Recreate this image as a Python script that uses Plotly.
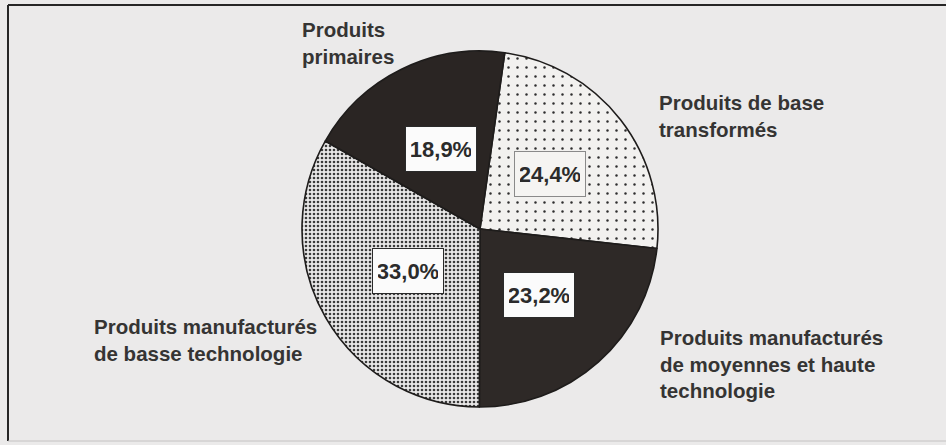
import math
import plotly.graph_objects as go

# ---- data ----
labels = [
    "Produits de base transformés",
    "Produits manufacturés de moyennes et haute technologie",
    "Produits manufacturés de basse technologie",
    "Produits primaires",
]
values = [24.4, 23.2, 33.0, 18.9]
label_lines = [
    ["Produits de base", "transformés"],
    ["Produits manufacturés", "de moyennes et haute", "technologie"],
    ["Produits manufacturés", "de basse technologie"],
    ["Produits", "primaires"],
]

# ---- layout constants ----
W, H = 946, 445
CX, CY, R = 480, 229, 178
ROT = 8
BG = "#ebeaea"
TXT = "#353433"

fill_colors = ["#f2f1ef", "#2e2927", "#e9e8e8", "#2a2523"]
pat_shapes = [".", "", ".", ""]
pat_fg = ["#2e2e2e", "#2e2927", "#3a3a3a", "#2a2523"]
pat_size = [9, 6, 4, 6]
pat_solid = [0.06, 0.3, 0.33, 0.3]

fig = go.Figure()
fig.add_trace(go.Pie(
    labels=labels,
    values=values,
    sort=False,
    direction="clockwise",
    rotation=ROT,
    textinfo="none",
    hoverinfo="label+percent",
    showlegend=False,
    domain=dict(x=[(CX - R) / W, (CX + R) / W],
                y=[(H - CY - R) / H, (H - CY + R) / H]),
    marker=dict(
        colors=fill_colors,
        line=dict(color="#1e1c1b", width=1.6),
        pattern=dict(shape=pat_shapes, fgcolor=pat_fg, bgcolor=fill_colors,
                     size=pat_size, solidity=pat_solid, fillmode="replace"),
    ),
))

annotations = []
# percentage boxes, placed at the middle of each slice
total = sum(values)
cum = 0.0
box_border = ["#8a8a8a", "#2a2a2a", "#2a2a2a", "#2a2a2a"]
box_bg = ["#f5f4f2", "#fbfbfb", "#fbfbfb", "#fbfbfb"]
rad_frac = [0.5, 0.5, 0.47, 0.5]
for i, v in enumerate(values):
    mid = math.radians(ROT + 360.0 * (cum + v / 2.0) / total)
    cum += v
    px = CX + rad_frac[i] * R * math.sin(mid)
    py = CY - rad_frac[i] * R * math.cos(mid)
    annotations.append(dict(
        x=px / W, y=1 - py / H, xref="paper", yref="paper",
        text=f"{v:.1f}".replace(".", ",") + "%",
        showarrow=False, xanchor="center", yanchor="middle",
        font=dict(family="Liberation Sans, Arial, sans-serif", size=22,
                  color="#2b2b2b", weight="bold"),
        bgcolor=box_bg[i], bordercolor=box_border[i], borderwidth=1,
        borderpad=5, width=60, height=34,
    ))

# outside category labels
label_pos = [(657, 116), (658, 364), (92, 340), (300, 43)]
for lines, (lx, ly) in zip(label_lines, label_pos):
    annotations.append(dict(
        x=lx / W, y=1 - ly / H, xref="paper", yref="paper",
        text="<br>".join(lines), align="left",
        showarrow=False, xanchor="left", yanchor="middle",
        font=dict(family="Liberation Sans, Arial, sans-serif", size=20.5,
                  color=TXT, weight="bold"),
    ))

frame = [
    dict(type="line", xref="paper", yref="paper",
         x0=8 / W, x1=8 / W, y0=1 - 441 / H, y1=1 - 5 / H,
         line=dict(color="#262626", width=2)),
    dict(type="line", xref="paper", yref="paper",
         x0=8 / W, x1=1.0, y0=1 - 5 / H, y1=1 - 5 / H,
         line=dict(color="#262626", width=2)),
    dict(type="line", xref="paper", yref="paper",
         x0=8 / W, x1=1.0, y0=1 - 441 / H, y1=1 - 441 / H,
         line=dict(color="#c4c2c2", width=1)),
]

fig.update_layout(
    width=W, height=H,
    margin=dict(l=0, r=0, t=0, b=0),
    paper_bgcolor=BG, plot_bgcolor=BG,
    annotations=annotations,
    shapes=frame,
)

fig.write_html("out.html",
               config={"displayModeBar": False},
               post_script="document.body.style.margin='0';"
                           "document.body.style.background='" + BG + "';")
